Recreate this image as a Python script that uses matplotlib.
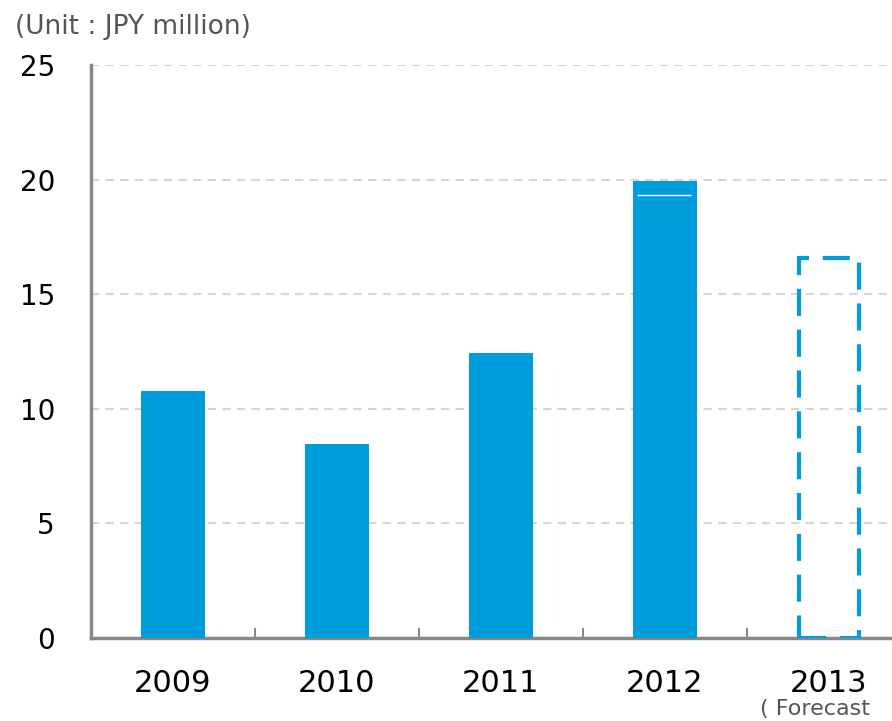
import matplotlib
matplotlib.use("Agg")
import matplotlib.pyplot as plt

years = ["2009", "2010", "2011", "2012", "2013"]
values = [10.78, 8.46, 12.43, 19.94, 16.58]
forecast = [False, False, False, False, True]
yticks = [0, 5, 10, 15, 20, 25]

blue = "#009ddc"
fig = plt.figure(figsize=(8.92, 7.21), dpi=100)
ax = fig.add_axes([91/892, 1-638/721, 820/892, (638-65)/721])
ax.set_xlim(-0.5, 4.5)
ax.set_ylim(0, 25)

x = list(range(len(years)))
for xi, v, f in zip(x, values, forecast):
    if f:
        ax.bar(xi, v, width=0.37, facecolor="none", edgecolor=blue,
               linewidth=3, linestyle=(0, (6.5, 3.3)), zorder=3)
    else:
        ax.bar(xi, v, width=0.385, color=blue, zorder=3)
ax.hlines(19.33, 3 - 0.17, 3 + 0.16, color="white", lw=1, zorder=4)

ax.set_yticks(yticks)
ax.set_yticklabels([str(t) for t in yticks], fontsize=20)
ax.tick_params(axis="y", length=0, pad=26)
ax.set_xticks(x)
ax.set_xticklabels(years, fontsize=22)
ax.set_xticks([0.5, 1.5, 2.5, 3.5], minor=True)
ax.tick_params(axis="x", which="major", length=0, pad=22)
ax.tick_params(axis="x", which="minor", length=7, direction="in", color="#888888", width=1.5)

for yv in yticks[1:]:
    ax.axhline(yv, color="#d6d6d6", lw=1.5, linestyle=(0, (4, 3)), zorder=1)

for s in ["top", "right"]:
    ax.spines[s].set_visible(False)
for s in ["left", "bottom"]:
    ax.spines[s].set_color("#888888")
    ax.spines[s].set_linewidth(2.5)

fig.text(15/892, 1-27/721, "(Unit : JPY million)", fontsize=19, color="#555555",
         ha="left", va="center")
fig.text(760/892, 1-709/721, "( Forecast", fontsize=16, color="#555555",
         ha="left", va="center")

fig.savefig("out.png", dpi=100)
